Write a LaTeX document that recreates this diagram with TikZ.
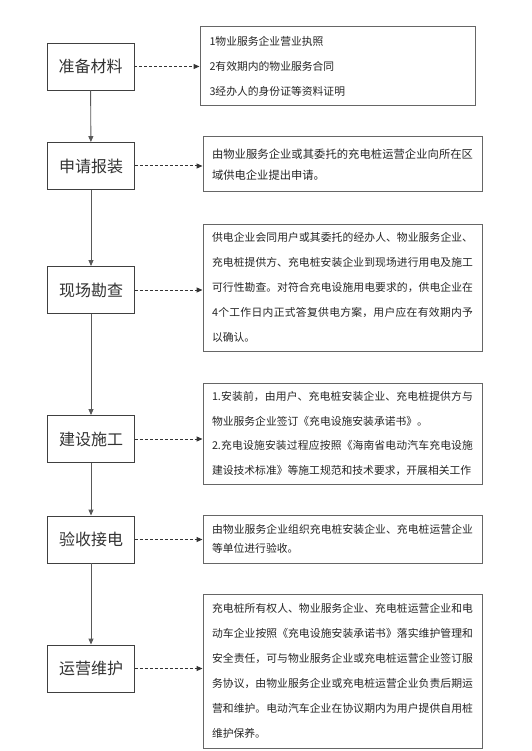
\documentclass[tikz,border=0pt]{standalone}
\usepackage{fontspec}
\setmainfont{Noto Sans CJK SC}
\usetikzlibrary{arrows.meta}
\XeTeXlinebreaklocale "zh"
\XeTeXlinebreakskip=0pt plus 1pt
\tikzset{
  stage/.style={draw=black!75, line width=0.9pt, minimum width=87pt, minimum height=47pt,
    inner sep=0pt, font=\fontsize{16}{18}\selectfont, text=black!80},
  detail/.style={draw=black!60, line width=1pt, inner xsep=9pt, inner ysep=0pt,
    text width=261pt, align=justify, text=black!85},
  flow/.style={draw=black!65, line width=0.9pt, -{Triangle[length=6pt,width=5pt]}},
  link/.style={draw=black!80, line width=1pt, dash pattern=on 3pt off 2pt,
    -{Triangle[length=6pt,width=5pt]}},
}
\begin{document}
\begin{tikzpicture}[x=1pt,y=-1pt]
\useasboundingbox[fill=white] (0,0) rectangle (531,751);

\node[stage] (s1) at (90.5,66.5) {准备材料};
\node[stage] (s2) at (91,166) {申请报装};
\node[stage] (s3) at (91,290) {现场勘查};
\node[stage] (s4) at (91,439) {建设施工};
\node[stage] (s5) at (91,539.5) {验收接电};
\node[stage] (s6) at (91,668.5) {运营维护};

\node[detail, text width=256pt, inner xsep=9.5pt, align=left, minimum height=79pt,
  font=\fontsize{10.8}{25}\selectfont] (d1) at (337.5,66.5)
  {1物业服务企业营业执照\\2有效期内的物业服务合同\\3经办人的身份证等资料证明};

\node[detail, minimum height=55pt, font=\fontsize{11.3}{21}\selectfont] (d2) at (342.5,164.5)
  {由物业服务企业或其委托的充电桩运营企业向所在区\linebreak
   域供电企业提出申请。};

\node[detail, minimum height=127pt, font=\fontsize{10.8}{25}\selectfont] (d3) at (342.5,287.5)
  {供电企业会同用户或其委托的经办人、物业服务企业、\linebreak
   充电桩提供方、充电桩安装企业到现场进行用电及施工\linebreak
   可行性勘查。对符合充电设施用电要求的，供电企业在\linebreak
   4个工作日内正式答复供电方案，用户应在有效期内予\linebreak
   以确认。};

\node[detail, minimum height=101pt, font=\fontsize{10.8}{24.5}\selectfont] (d4) at (342.5,433.5)
  {\parfillskip=0pt
   1.安装前，由用户、充电桩安装企业、充电桩提供方与\linebreak
   物业服务企业签订《充电设施安装承诺书》。\hfill\null\linebreak
   2.充电设施安装过程应按照《海南省电动汽车充电设施\linebreak
   建设技术标准》等施工规范和技术要求，开展相关工作};

\node[detail, minimum height=48pt, font=\fontsize{10.8}{19.5}\selectfont] (d5) at (342.5,539)
  {由物业服务企业组织充电桩安装企业、充电桩运营企业\linebreak
   等单位进行验收。};

\node[detail, minimum height=154pt, font=\fontsize{10.8}{25}\selectfont] (d6) at (342.5,671)
  {充电桩所有权人、物业服务企业、充电桩运营企业和电\linebreak
   动车企业按照《充电设施安装承诺书》落实维护管理和\linebreak
   安全责任，可与物业服务企业或充电桩运营企业签订服\linebreak
   务协议，由物业服务企业或充电桩运营企业负责后期运\linebreak
   营和维护。电动汽车企业在协议期内为用户提供自用桩\linebreak
   维护保养。};

\draw[flow] (s1) -- (s2);
\draw[flow] (s2) -- (s3);
\draw[flow] (s3) -- (s4);
\draw[flow] (s4) -- (s5);
\draw[flow] (s5) -- (s6);

\draw[link] (s1.east) -- (s1.east -| d1.west);
\draw[link] (s2.east) -- (s2.east -| d2.west);
\draw[link] (s3.east) -- (s3.east -| d3.west);
\draw[link] (s4.east) -- (s4.east -| d4.west);
\draw[link] (s5.east) -- (s5.east -| d5.west);
\draw[link] (s6.east) -- (s6.east -| d6.west);
\end{tikzpicture}
\end{document}
